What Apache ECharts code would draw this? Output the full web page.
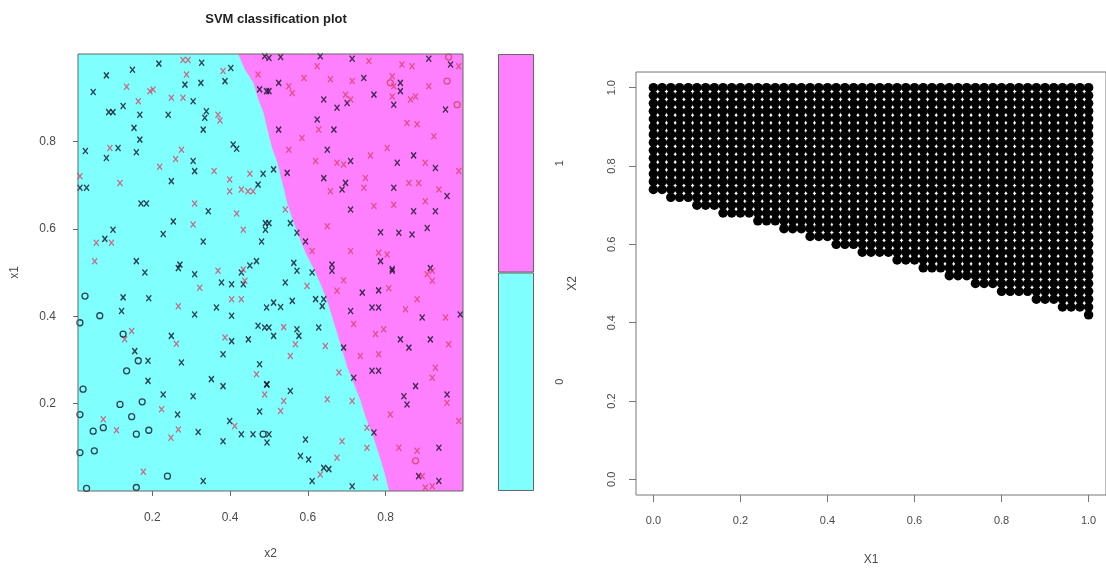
<!DOCTYPE html>
<html>
<head>
<meta charset="utf-8">
<script src="https://cdn.jsdelivr.net/npm/echarts@6/dist/echarts.min.js"></script>
<style>
  html, body { margin: 0; background: #fff; }
  #main { width: 1106px; height: 578px; }
</style>
</head>
<body>
<div id="main"></div>
<script>
// svm decision boundary, x2 along x1 (top to bottom)
const boundaryX2 = [0.421, 0.438, 0.460, 0.473, 0.486, 0.494, 0.509, 0.522, 0.530, 0.539, 0.547, 0.564, 0.577, 0.594,
  0.615, 0.633, 0.650, 0.663, 0.676, 0.689, 0.702, 0.719, 0.736, 0.749, 0.766, 0.783, 0.796, 0.809]
const boundaryX1 = [1.0, 0.965, 0.934, 0.896, 0.866, 0.835, 0.782, 0.751, 0.720, 0.690, 0.659, 0.614, 0.583, 0.545,
  0.509, 0.473, 0.435, 0.397, 0.359, 0.321, 0.282, 0.244, 0.206, 0.168, 0.130, 0.084, 0.046, 0.0]

// support vectors [x2, x1], class 0 (black) and class 1 (red)
const svClass0 = [
  [0.217, 0.978], [0.327, 0.980], [0.149, 0.964], [0.082, 0.951], [0.402, 0.968], [0.387, 0.938], [0.048, 0.913],
  [0.284, 0.930], [0.325, 0.934], [0.305, 0.892], [0.125, 0.881], [0.088, 0.867], [0.099, 0.867], [0.168, 0.861],
  [0.241, 0.861], [0.339, 0.869], [0.335, 0.854], [0.153, 0.831], [0.331, 0.827], [0.168, 0.804], [0.408, 0.793],
  [0.417, 0.783], [0.028, 0.778], [0.112, 0.785], [0.159, 0.775], [0.082, 0.762], [0.305, 0.755], [0.309, 0.732],
  [0.249, 0.709], [0.472, 0.701], [0.485, 0.726], [0.031, 0.694], [0.014, 0.694], [0.171, 0.658], [0.185, 0.658],
  [0.344, 0.640], [0.254, 0.617], [0.099, 0.598], [0.228, 0.588], [0.491, 0.613], [0.491, 0.598], [0.078, 0.577],
  [0.331, 0.571], [0.481, 0.571], [0.159, 0.526], [0.271, 0.518], [0.468, 0.526], [0.451, 0.516], [0.476, 0.919],
  [0.494, 0.915], [0.489, 0.995],
  [0.500, 0.991], [0.530, 0.993], [0.632, 0.995], [0.714, 0.989], [0.911, 0.989], [0.967, 0.976], [0.525, 0.934],
  [0.500, 0.915], [0.744, 0.945], [0.838, 0.934], [0.838, 0.915], [0.641, 0.896], [0.675, 0.877], [0.701, 0.888],
  [0.770, 0.907], [0.821, 0.884], [0.954, 0.873], [0.624, 0.850], [0.667, 0.827], [0.525, 0.827], [0.650, 0.781],
  [0.710, 0.755], [0.830, 0.751], [0.872, 0.768], [0.928, 0.739], [0.512, 0.736], [0.547, 0.728], [0.641, 0.716],
  [0.697, 0.705], [0.688, 0.690], [0.821, 0.694], [0.958, 0.675], [0.710, 0.644], [0.872, 0.640], [0.928, 0.640],
  [0.500, 0.613], [0.555, 0.613], [0.572, 0.591], [0.594, 0.571], [0.787, 0.592], [0.834, 0.591], [0.868, 0.587],
  [0.907, 0.602], [0.787, 0.526], [0.817, 0.508], [0.662, 0.518], [0.564, 0.522], [0.915, 0.510],
  [0.181, 0.500], [0.267, 0.510], [0.309, 0.496], [0.429, 0.500], [0.125, 0.443], [0.191, 0.441], [0.378, 0.477],
  [0.404, 0.473], [0.434, 0.473], [0.121, 0.412], [0.309, 0.404], [0.365, 0.420], [0.404, 0.401], [0.494, 0.420],
  [0.472, 0.378], [0.489, 0.374], [0.249, 0.355], [0.404, 0.343], [0.447, 0.347], [0.155, 0.320], [0.189, 0.298],
  [0.275, 0.294], [0.382, 0.313], [0.476, 0.290], [0.189, 0.252], [0.352, 0.256], [0.382, 0.240], [0.228, 0.221],
  [0.305, 0.217], [0.494, 0.244], [0.265, 0.175], [0.476, 0.182], [0.399, 0.160], [0.318, 0.135], [0.382, 0.114],
  [0.429, 0.130], [0.459, 0.130], [0.331, 0.023],
  [0.572, 0.504], [0.611, 0.500], [0.662, 0.504], [0.817, 0.504], [0.542, 0.477], [0.740, 0.454], [0.782, 0.459],
  [0.512, 0.431], [0.530, 0.421], [0.560, 0.435], [0.620, 0.439], [0.641, 0.439], [0.637, 0.423], [0.710, 0.412],
  [0.765, 0.420], [0.782, 0.420], [0.894, 0.397], [0.992, 0.404], [0.500, 0.374], [0.512, 0.355], [0.572, 0.370],
  [0.577, 0.355], [0.628, 0.374], [0.838, 0.347], [0.860, 0.328], [0.915, 0.347], [0.692, 0.328], [0.718, 0.259],
  [0.765, 0.275], [0.782, 0.275], [0.495, 0.244], [0.555, 0.229], [0.847, 0.217], [0.855, 0.198], [0.877, 0.240],
  [0.958, 0.221], [0.500, 0.130], [0.495, 0.111], [0.594, 0.118], [0.770, 0.134], [0.937, 0.099], [0.581, 0.080],
  [0.602, 0.072], [0.641, 0.053], [0.654, 0.050], [0.611, 0.023], [0.714, 0.011], [0.885, 0.034], [0.937, 0.023]
]
const svClass1 = [
  [0.279, 0.986], [0.292, 0.986], [0.288, 0.953], [0.382, 0.961], [0.134, 0.925], [0.202, 0.919], [0.194, 0.915],
  [0.164, 0.892], [0.249, 0.900], [0.279, 0.900], [0.369, 0.861], [0.374, 0.848], [0.091, 0.785], [0.275, 0.781],
  [0.260, 0.760], [0.219, 0.742], [0.359, 0.732], [0.117, 0.705], [0.014, 0.720], [0.399, 0.713], [0.399, 0.686],
  [0.429, 0.690], [0.446, 0.686], [0.459, 0.686], [0.451, 0.726], [0.309, 0.658], [0.417, 0.635], [0.305, 0.610],
  [0.434, 0.598], [0.056, 0.568], [0.095, 0.568], [0.052, 0.526], [0.472, 0.953],
  [0.624, 0.972], [0.757, 0.984], [0.842, 0.976], [0.868, 0.972], [0.988, 0.972], [0.551, 0.926], [0.560, 0.911],
  [0.590, 0.945], [0.658, 0.942], [0.714, 0.938], [0.817, 0.949], [0.821, 0.926], [0.911, 0.926], [0.864, 0.896],
  [0.877, 0.903], [0.697, 0.907], [0.710, 0.896], [0.817, 0.903], [0.628, 0.827], [0.585, 0.808], [0.855, 0.842],
  [0.881, 0.839], [0.924, 0.812], [0.551, 0.781], [0.620, 0.755], [0.675, 0.751], [0.692, 0.747], [0.804, 0.785],
  [0.761, 0.768], [0.902, 0.751], [0.988, 0.732], [0.658, 0.686], [0.748, 0.716], [0.744, 0.694], [0.860, 0.705],
  [0.885, 0.705], [0.937, 0.690], [0.542, 0.644], [0.770, 0.652], [0.821, 0.655], [0.902, 0.663], [0.650, 0.606],
  [0.611, 0.549], [0.710, 0.549], [0.782, 0.545], [0.804, 0.541],
  [0.369, 0.504], [0.438, 0.481], [0.434, 0.507], [0.322, 0.465], [0.404, 0.439], [0.429, 0.439], [0.267, 0.423],
  [0.129, 0.347], [0.147, 0.366], [0.262, 0.337], [0.387, 0.351], [0.468, 0.267], [0.489, 0.221], [0.224, 0.187],
  [0.074, 0.164], [0.108, 0.139], [0.248, 0.122], [0.267, 0.141], [0.412, 0.149], [0.177, 0.044],
  [0.920, 0.504], [0.907, 0.496], [0.920, 0.481], [0.598, 0.469], [0.675, 0.458], [0.692, 0.482], [0.808, 0.464],
  [0.881, 0.439], [0.851, 0.416], [0.954, 0.397], [0.538, 0.375], [0.568, 0.336], [0.718, 0.382], [0.795, 0.370],
  [0.774, 0.359], [0.962, 0.336], [0.555, 0.309], [0.645, 0.332], [0.735, 0.309], [0.782, 0.313], [0.928, 0.282],
  [0.680, 0.271], [0.920, 0.259], [0.538, 0.206], [0.530, 0.183], [0.650, 0.210], [0.714, 0.206], [0.958, 0.202],
  [0.812, 0.175], [0.988, 0.160], [0.688, 0.114], [0.752, 0.145], [0.752, 0.099], [0.834, 0.099], [0.881, 0.092],
  [0.632, 0.038], [0.675, 0.076], [0.774, 0.031], [0.894, 0.034], [0.920, 0.011], [0.902, 0.008]
]
// other observations [x2, x1]
const obsClass0 = [
  [0.027, 0.446], [0.065, 0.401], [0.014, 0.385], [0.125, 0.359], [0.164, 0.298], [0.134, 0.275], [0.022, 0.233],
  [0.117, 0.198], [0.174, 0.204], [0.147, 0.170], [0.014, 0.175], [0.074, 0.145], [0.048, 0.137], [0.159, 0.130],
  [0.191, 0.139], [0.485, 0.130], [0.051, 0.092], [0.014, 0.088], [0.239, 0.034], [0.031, 0.006], [0.159, 0.008]
]
const obsClass1 = [[0.962, 0.993], [0.812, 0.934], [0.958, 0.938], [0.984, 0.884], [0.877, 0.069]]

const keyLevels = ['0', '1']
const leftTicks = [0.2, 0.4, 0.6, 0.8]

// predicted grid (right panel): lowest X2 filled in each X1 column
const gridStep = 0.02
const colBottoms = [0.74, 0.74, 0.72, 0.72, 0.72, 0.70, 0.70, 0.70, 0.68, 0.68, 0.68, 0.68, 0.66, 0.66, 0.66, 0.64, 0.64,
  0.64, 0.62, 0.62, 0.62, 0.60, 0.60, 0.60, 0.58, 0.58, 0.58, 0.58, 0.56, 0.56, 0.56, 0.54, 0.54, 0.54, 0.52, 0.52,
  0.52, 0.50, 0.50, 0.50, 0.48, 0.48, 0.48, 0.48, 0.46, 0.46, 0.46, 0.44, 0.44, 0.44, 0.42]
const rightTicks = [0, 0.2, 0.4, 0.6, 0.8, 1.0]

const gridDots = []
for (let i = 0; i < colBottoms.length; i++) {
  for (let k = Math.round(colBottoms[i] / gridStep); k <= Math.round(1 / gridStep); k++) {
    gridDots.push([+(i * gridStep).toFixed(2), +(k * gridStep).toFixed(2)])
  }
}

const cyan = '#80FFFF'
const magenta = '#FF80FF'
const textCol = '#4a4a4a'
const font = 'Liberation Sans'
const L = { left: 78, top: 54, width: 385, height: 437 }
const xMin = 0.009
const xMax = 0.999
const xShape = 'path://M0,0L10,12M10,0L0,12'

const chart = echarts.init(document.getElementById('main'))
chart.setOption({
  animation: false,
  textStyle: { fontFamily: font },
  title: {
    text: 'SVM classification plot',
    left: 271,
    top: 8,
    textAlign: 'center',
    textStyle: { fontSize: 13, fontWeight: 'bold', color: '#222', fontFamily: font }
  },
  grid: [
    { left: L.left, top: L.top, width: L.width, height: L.height, show: true, backgroundColor: cyan, borderWidth: 0 },
    { left: 498, top: 54, width: 36, height: 437 },
    { left: 636, top: 72, width: 471, height: 423, show: true, borderColor: '#777', borderWidth: 1 }
  ],
  xAxis: [
    {
      gridIndex: 0, type: 'value', min: xMin, max: xMax,
      name: 'x2', nameLocation: 'middle', nameGap: 57,
      nameTextStyle: { color: textCol, fontSize: 12 },
      axisLine: { show: false, onZero: false },
      splitLine: { show: false },
      axisTick: { show: true, length: 5, lineStyle: { color: '#666' }, customValues: leftTicks },
      axisLabel: { color: textCol, fontSize: 12, margin: 21, customValues: leftTicks, formatter: v => v.toFixed(1) }
    },
    { gridIndex: 1, type: 'value', min: 0, max: 1, show: false },
    {
      gridIndex: 2, type: 'value', min: -0.04, max: 1.04,
      name: 'X1', nameLocation: 'middle', nameGap: 59,
      nameTextStyle: { color: textCol, fontSize: 12 },
      axisLine: { show: false, onZero: false },
      splitLine: { show: false },
      axisTick: { show: true, length: 7, lineStyle: { color: '#777' }, customValues: rightTicks },
      axisLabel: { color: textCol, fontSize: 11, margin: 20, customValues: rightTicks, formatter: v => v.toFixed(1) }
    }
  ],
  yAxis: [
    {
      gridIndex: 0, type: 'value', min: 0, max: 1,
      name: 'x1', nameLocation: 'middle', nameGap: 57, nameRotate: 90,
      nameTextStyle: { color: textCol, fontSize: 12 },
      axisLine: { show: false, onZero: false },
      splitLine: { show: false },
      axisTick: { show: true, length: 5, lineStyle: { color: '#666' }, customValues: leftTicks },
      axisLabel: { color: textCol, fontSize: 12, margin: 22, customValues: leftTicks, formatter: v => v.toFixed(1) }
    },
    {
      gridIndex: 1, type: 'category', data: keyLevels, position: 'right',
      axisLine: { show: false },
      axisTick: { show: true, length: 7, alignWithLabel: true, lineStyle: { color: '#666' } },
      axisLabel: { color: textCol, fontSize: 11, margin: 20, rotate: 90 }
    },
    {
      gridIndex: 2, type: 'value', min: -0.04, max: 1.04,
      name: 'X2', nameLocation: 'middle', nameGap: 57, nameRotate: 90,
      nameTextStyle: { color: textCol, fontSize: 12 },
      axisLine: { show: false, onZero: false },
      splitLine: { show: false },
      axisTick: { show: true, length: 7, lineStyle: { color: '#777' }, customValues: rightTicks },
      axisLabel: { color: textCol, fontSize: 11, margin: 19, rotate: 90, customValues: rightTicks, formatter: v => v.toFixed(1) }
    }
  ],
  graphic: [
    {
      type: 'rect', z: 100, silent: true,
      shape: { x: L.left, y: L.top, width: L.width, height: L.height },
      style: { fill: 'none', stroke: '#666', lineWidth: 1 }
    }
  ],
  series: [
    {
      type: 'custom', xAxisIndex: 0, yAxisIndex: 0, z: 1, silent: true,
      data: [[xMax, 0]],
      renderItem: function(params, api) {
        const pts = boundaryX2.map((x, i) => api.coord([x, boundaryX1[i]]))
        pts.push(api.coord([xMax, 0]), api.coord([xMax, 1]))
        return { type: 'polygon', shape: { points: pts }, style: { fill: magenta } }
      }
    },
    {
      type: 'scatter', xAxisIndex: 0, yAxisIndex: 0, z: 3, data: svClass0,
      symbol: xShape, symbolSize: [5, 6],
      itemStyle: { color: 'none', opacity: 1, borderColor: 'rgba(20,20,40,0.8)', borderWidth: 1.4 }
    },
    {
      type: 'scatter', xAxisIndex: 0, yAxisIndex: 0, z: 3, data: svClass1,
      symbol: xShape, symbolSize: [5, 6],
      itemStyle: { color: 'none', opacity: 1, borderColor: 'rgba(215,60,95,0.75)', borderWidth: 1.3 }
    },
    {
      type: 'scatter', xAxisIndex: 0, yAxisIndex: 0, z: 3, data: obsClass0,
      symbol: 'circle', symbolSize: 6,
      itemStyle: { color: 'none', opacity: 1, borderColor: 'rgba(20,20,40,0.8)', borderWidth: 1.3 }
    },
    {
      type: 'scatter', xAxisIndex: 0, yAxisIndex: 0, z: 3, data: obsClass1,
      symbol: 'circle', symbolSize: 6,
      itemStyle: { color: 'none', opacity: 1, borderColor: 'rgba(215,60,95,0.8)', borderWidth: 1.3 }
    },
    {
      type: 'bar', xAxisIndex: 1, yAxisIndex: 1, barWidth: '100%',
      data: [
        { value: 1, itemStyle: { color: cyan } },
        { value: 1, itemStyle: { color: magenta } }
      ],
      itemStyle: { borderColor: '#666', borderWidth: 1 }
    },
    {
      type: 'scatter', xAxisIndex: 2, yAxisIndex: 2, data: gridDots,
      symbol: 'circle', symbolSize: 9.5,
      itemStyle: { color: '#000', opacity: 1 }
    }
  ]
})
</script>
</body>
</html>
